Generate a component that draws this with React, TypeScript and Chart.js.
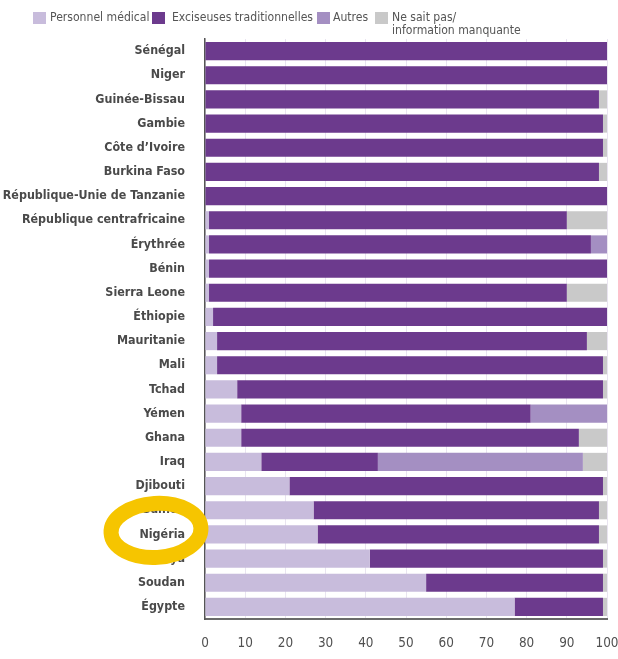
import React, { useEffect, useRef } from "react";
import { Chart, registerables } from "chart.js";

Chart.register(...registerables);

const categories = [
  "Sénégal",
  "Niger",
  "Guinée-Bissau",
  "Gambie",
  "Côte d’Ivoire",
  "Burkina Faso",
  "République-Unie de Tanzanie",
  "République centrafricaine",
  "Érythrée",
  "Bénin",
  "Sierra Leone",
  "Éthiopie",
  "Mauritanie",
  "Mali",
  "Tchad",
  "Yémen",
  "Ghana",
  "Iraq",
  "Djibouti",
  "Guinée",
  "Nigéria",
  "Kenya",
  "Soudan",
  "Égypte",
];

const medical = [0, 0, 0, 0, 0, 0, 0, 1, 1, 1, 1, 2, 3, 3, 8, 9, 9, 14, 21, 27, 28, 41, 55, 77];
const excision = [100, 100, 98, 99, 99, 98, 100, 89, 95, 99, 89, 98, 92, 96, 91, 72, 84, 29, 78, 71, 70, 58, 44, 22];
const autres = [0, 0, 0, 0, 0, 0, 0, 0, 4, 0, 0, 0, 0, 0, 0, 19, 0, 51, 0, 0, 0, 0, 0, 0];
const nsp = [0, 0, 2, 1, 1, 2, 0, 10, 0, 0, 10, 0, 5, 1, 1, 0, 7, 6, 1, 2, 2, 1, 1, 1];

const seriesNames = ["Personnel médical", "Exciseuses traditionnelles", "Autres", "Ne sait pas/\ninformation manquante"];
const xTicks = [0, 10, 20, 30, 40, 50, 60, 70, 80, 90, 100];

const COLORS = ["#c8bcdc", "#6c3a8d", "#a48fc2", "#c9c9c9"];

function pickFamily(): string {
  const c = document.createElement("canvas").getContext("2d")!;
  const sample = "République centrafricaine 0123";
  const candidates = ["Liberation Sans Narrow", "DejaVu Sans Condensed", "Roboto"];
  for (const name of candidates) {
    c.font = `20px monospace`;
    const a = c.measureText(sample).width;
    c.font = `20px "${name}", monospace`;
    const b = c.measureText(sample).width;
    c.font = `20px serif`;
    const s = c.measureText(sample).width;
    c.font = `20px "${name}", serif`;
    const t = c.measureText(sample).width;
    if (Math.abs(a - b) > 0.5 && Math.abs(s - t) > 0.5) return `"${name}", sans-serif`;
  }
  return "Roboto, sans-serif";
}

function fitSize(family: string, weight: string, text: string, target: number): number {
  const c = document.createElement("canvas").getContext("2d")!;
  c.font = `${weight} 20px ${family}`;
  const w = c.measureText(text).width;
  return Math.round((20 * target) / w * 10) / 10;
}

export default function App() {
  const ref = useRef<HTMLCanvasElement>(null);

  useEffect(() => {
    if (!ref.current) return;
    const FONT = pickFamily();
    const labelSize = Math.min(
      fitSize(FONT, "bold", "République centrafricaine", 166),
      fitSize(FONT, "bold", "République-Unie de Tanzanie", 183)
    );
    const legendSize = fitSize(FONT, "normal", "Exciseuses traditionnelles", 141);
    const tickSize = Math.round(labelSize * 1.08 * 10) / 10;

    const legendPlugin = {
      id: "customLegend",
      afterDraw(chart: any) {
        const ctx = chart.ctx;
        ctx.save();
        const boxX = [33, 152, 317, 375];
        const textX = [50, 172, 333, 392];
        ctx.font = `${legendSize}px ${FONT}`;
        ctx.textBaseline = "middle";
        ctx.textAlign = "left";
        seriesNames.forEach((name, i) => {
          ctx.fillStyle = COLORS[i];
          ctx.fillRect(boxX[i], 12, 13, 12);
          ctx.fillStyle = "#555";
          name.split("\n").forEach((ln, j) => {
            ctx.fillText(ln, textX[i], 18 + j * 13);
          });
        });
        ctx.restore();
      },
    };

    const markPlugin = {
      id: "yellowMark",
      afterDraw(chart: any) {
        const ctx = chart.ctx;
        const y = chart.scales.y;
        const cy = y.getPixelForValue(categories.indexOf("Nigéria")) - 4;
        ctx.save();
        ctx.strokeStyle = "#f6c500";
        ctx.lineWidth = 15;
        ctx.beginPath();
        ctx.ellipse(156, cy, 45, 27, -0.06, 0, Math.PI * 2);
        ctx.stroke();
        ctx.restore();
      },
    };

    const chart = new Chart(ref.current, {
      type: "bar",
      data: {
        labels: categories,
        datasets: [medical, excision, autres, nsp].map((d, i) => ({
          label: seriesNames[i],
          data: d,
          backgroundColor: COLORS[i],
          borderWidth: 0,
          barPercentage: 0.75,
          categoryPercentage: 1,
        })),
      },
      options: {
        indexAxis: "y",
        animation: false,
        responsive: false,
        maintainAspectRatio: false,
        layout: { padding: { left: 0, right: 11, top: 39, bottom: 0 } },
        plugins: {
          legend: { display: false },
          tooltip: { enabled: false },
        },
        scales: {
          x: {
            stacked: true,
            min: 0,
            max: 100,
            afterBuildTicks: (scale: any) => {
              scale.ticks = xTicks.map((v) => ({ value: v }));
            },
            afterFit: (scale: any) => {
              scale.height = 40;
              scale.paddingLeft = 0;
              scale.paddingRight = 0;
            },
            grid: {
              color: "rgba(215,205,228,0.55)",
              drawTicks: false,
              lineWidth: 1,
            },
            border: { display: true, color: "#6a6a6a", width: 2 },
            ticks: {
              padding: 16,
              color: "#505050",
              font: { family: FONT, size: tickSize },
            },
          },
          y: {
            stacked: true,
            afterFit: (scale: any) => {
              scale.width = 205;
              scale.paddingTop = 0;
              scale.paddingBottom = 0;
            },
            grid: { display: false, drawTicks: false },
            border: { display: true, color: "#555", width: 1.5 },
            ticks: {
              padding: 20,
              color: "#4a4a4a",
              font: { family: FONT, size: labelSize, weight: "bold" },
              autoSkip: false,
            },
          },
        },
      },
      plugins: [legendPlugin, markPlugin],
    });
    return () => chart.destroy();
  }, []);

  return (
    <div style={{ position: "absolute", left: 0, top: 0, width: 618, height: 659, background: "#fff" }}>
      <canvas ref={ref} width={618} height={659} style={{ width: 618, height: 659, display: "block" }} />
    </div>
  );
}
